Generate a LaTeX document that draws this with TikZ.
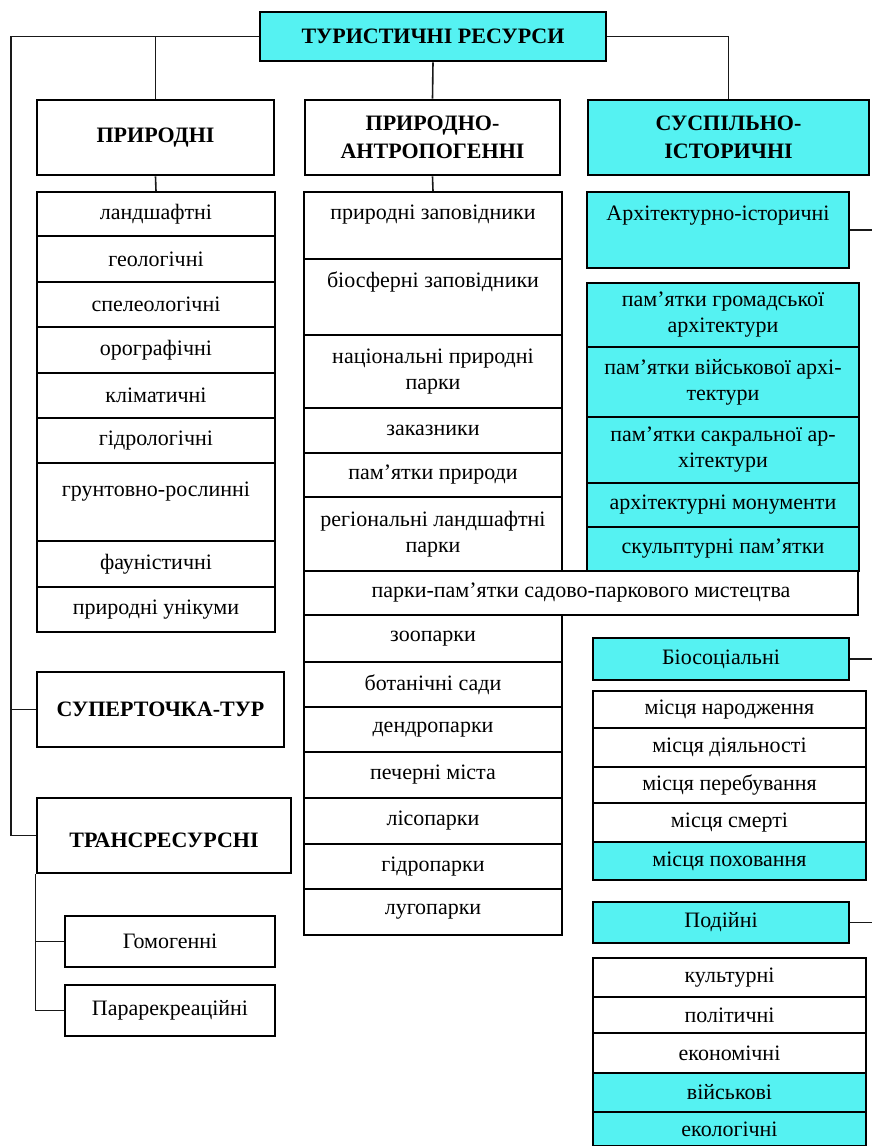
\documentclass[tikz,border=0pt]{standalone}
\usepackage{fontspec}
\setmainfont{Liberation Serif}
\usepackage{tikz}
\usetikzlibrary{calc}
\definecolor{tcyan}{RGB}{85,242,242}
\tikzset{
	head/.style={draw, line width=2.8pt, inner sep=0pt, align=center, font=\bfseries\fontsize{22}{28}\selectfont},
	cell/.style={draw, line width=1.8pt, inner sep=0pt, align=center, font=\fontsize{22}{26}\selectfont},
	lcol/.style={cell, minimum width=238},
	mcol/.style={cell, minimum width=258},
	scol/.style={cell, minimum width=272, fill=tcyan},
	bcol/.style={cell, minimum width=273},
	link/.style={line width=1.6pt, draw=black!90},
}

\begin{document}
\begin{tikzpicture}[x=1pt,y=-1pt]
			\useasboundingbox (0,0) rectangle (872,1146);
			\coordinate (edge) at (872,0);
			\coordinate (trunk) at (11,36.5);
			\node[head, fill=tcyan, minimum width=346, minimum height=49] (top) at (433,36.5) {ТУРИСТИЧНІ РЕСУРСИ};
			\node[head, minimum width=237, minimum height=75] (nat) at (155.5,137.5) {ПРИРОДНІ};
			\node[head, minimum width=255, minimum height=75] (antr) at (432.5,137.5) {ПРИРОДНО-\\АНТРОПОГЕННІ};
			\node[head, fill=tcyan, minimum width=281, minimum height=75] (soc) at (728.5,137.5) {СУСПІЛЬНО-\\ІСТОРИЧНІ};
			\node[head, minimum width=247, minimum height=75] (super) at (160.5,709.5) {СУПЕРТОЧКА-ТУР};
			\node[head, minimum width=254, minimum height=75] (trans) at (164,835.5) {\mbox{}\\[-4pt]ТРАНСРЕСУРСНІ};
			\node[cell, minimum width=210, minimum height=51] (homo) at (170,941.5) {Гомогенні};
			\node[cell, minimum width=210, minimum height=51] (para) at (170,1010.5) {Парарекреаційні};
			
			\node[lcol, minimum height=44] (l1) at (156,214) {ландшафтні};
			\node[lcol, minimum height=46] (l2) at (156,259) {геологічні};
			\node[lcol, minimum height=45] (l3) at (156,304.5) {спелеологічні};
			\node[lcol, minimum height=46] (l4) at (156,350) {орографічні};
			\node[lcol, minimum height=45] (l5) at (156,395.5) {кліматичні};
			\node[lcol, minimum height=45] (l6) at (156,440.5) {гідрологічні};
			\node[lcol, minimum height=78] (l7) at (156,502) {грунтовно-рослинні\\\mbox{}};
			\node[lcol, minimum height=46] (l8) at (156,564) {фауністичні};
			\node[lcol, minimum height=45] (l9) at (156,609.5) {природні унікуми};
			
			\node[mcol, minimum height=67] (m1) at (433,225.5) {природні заповідники\\\mbox{}};
			\node[mcol, minimum height=76] (m2) at (433,297) {біосферні заповідники\\[8pt]\mbox{}};
			\node[mcol, minimum height=73] (m3) at (433,371.5) {національні природні\\парки};
			\node[mcol, minimum height=45] (m4) at (433,430.5) {заказники};
			\node[mcol, minimum height=44] (m5) at (433,475) {пам’ятки природи};
			\node[mcol, minimum height=74] (m6) at (433,534) {регіональні ландшафтні\\парки};
			\node[mcol, minimum height=47] (m7) at (433,638.5) {зоопарки};
			\node[mcol, minimum height=45] (m8) at (433,684.5) {ботанічні сади};
			\node[mcol, minimum height=45] (m9) at (433,729.5) {дендропарки};
			\node[mcol, minimum height=46] (m10) at (433,775) {печерні міста};
			\node[mcol, minimum height=46] (m11) at (433,821) {лісопарки};
			\node[mcol, minimum height=45] (m12) at (433,866.5) {гідропарки};
			\node[mcol, minimum height=46] (m13) at (433,912) {лугопарки};
			
			\node[cell, fill=tcyan, minimum width=262, minimum height=76] (arch) at (718,230) {Архітектурно-історичні\\[8pt]\mbox{}};
			\node[scol, minimum height=64] (s1) at (723,315) {пам’ятки громадської\\архітектури};
			\node[scol, minimum height=70] (s2) at (723,382) {пам’ятки військової архі-\\тектури};
			\node[scol, minimum height=66] (s3) at (723,450) {пам’ятки сакральної ар-\\хітектури};
			\node[scol, minimum height=44] (s4) at (723,505) {архітектурні монументи};
			\node[scol, minimum height=44] (s5) at (723,549) {скульптурні пам’ятки};
			\node[cell, minimum width=554, minimum height=44] (park) at (581,593) {парки-пам’ятки садово-паркового мистецтва};
			
			\node[cell, fill=tcyan, minimum width=256, minimum height=42] (bio) at (721,659) {Біосоціальні};
			\node[bcol, minimum height=37] (b1) at (729.5,709.5) {місця народження};
			\node[bcol, minimum height=39] (b2) at (729.5,747.5) {місця діяльності};
			\node[bcol, minimum height=36] (b3) at (729.5,785) {місця перебування};
			\node[bcol, minimum height=39] (b4) at (729.5,822.5) {місця смерті};
			\node[bcol, minimum height=38, fill=tcyan] (b5) at (729.5,861) {місця поховання};
			
			\node[cell, fill=tcyan, minimum width=256, minimum height=41] (event) at (721,922.5) {Подійні};
			\node[bcol, minimum height=39] (e1) at (729.5,977.5) {культурні};
			\node[bcol, minimum height=36] (e2) at (729.5,1015) {політичні};
			\node[bcol, minimum height=40] (e3) at (729.5,1053) {економічні};
			\node[bcol, minimum height=39, fill=tcyan] (e4) at (729.5,1092.5) {військові};
			\node[bcol, minimum height=34, fill=tcyan] (e5) at (729.5,1129) {екологічні};
			
			\draw[link] (top.west) -- (trunk) |- (trans.west);
			\draw[link] (trunk |- super.west) -- (super.west);
			\draw[link] (top.west) -| (nat.north);
			\draw[link] (top.south) -- (antr.north);
			\draw[link] (top.east) -| (soc.north);
			\draw[link] (nat.south) -- (l1.north);
			\draw[link] (antr.south) -- (m1.north);
			\draw[link] (trans.south west) |- (homo.west);
			\draw[link] (trans.south west) |- (para.west);
			\draw[link] (arch.east) -- (arch.east -| edge);
			\draw[link] (bio.east) -- (bio.east -| edge);
			\draw[link] (event.east) -- (event.east -| edge);
		\end{tikzpicture}
\end{document}
